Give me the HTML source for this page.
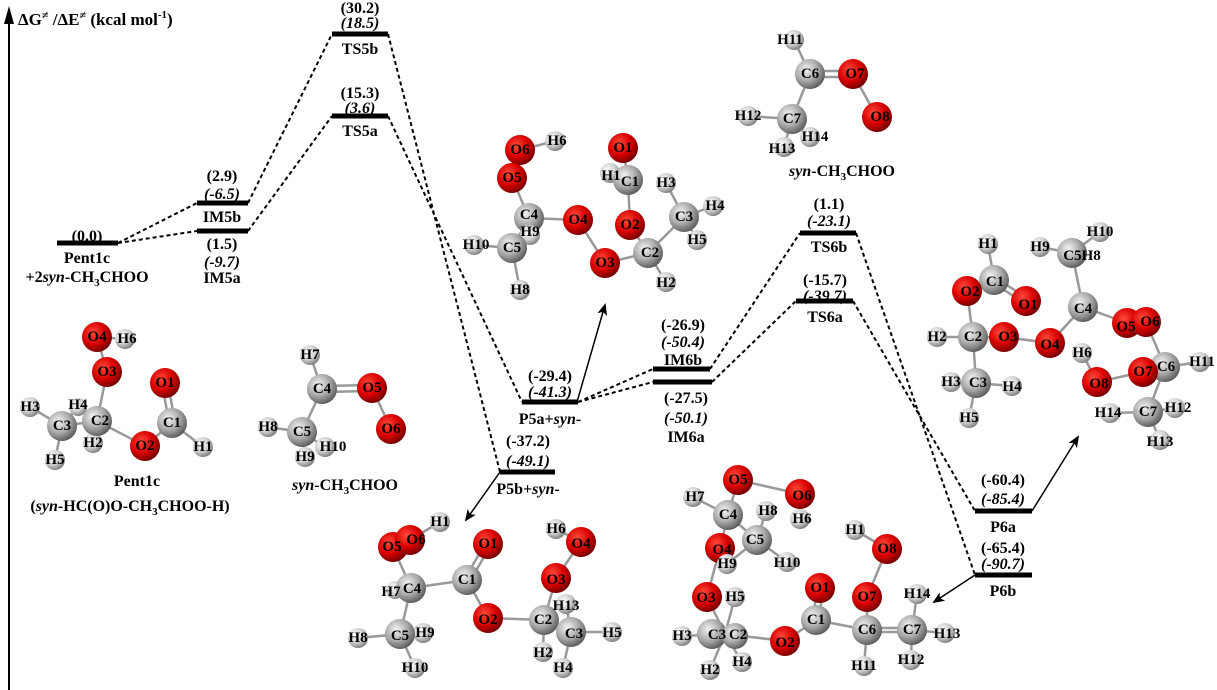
<!DOCTYPE html>
<html><head><meta charset="utf-8"><style>
html,body{margin:0;padding:0;background:#fff}
svg{display:block}
text{font-family:"Liberation Serif",serif;font-weight:bold;fill:#000}
.e{font-size:16px;text-anchor:middle}
.a{font-size:15px;text-anchor:middle;dominant-baseline:central}
.d{stroke:#000;stroke-width:2;stroke-dasharray:4,3;fill:none}
.l{stroke:#000;stroke-width:5}
.b{stroke:#999;stroke-width:2.5}
</style></head><body>
<svg width="1217" height="690" viewBox="0 0 1217 690" xmlns="http://www.w3.org/2000/svg">
<defs>
<radialGradient id="gO" cx="0.38" cy="0.35" r="0.7"><stop offset="0" stop-color="#ff4a3a"/><stop offset="0.55" stop-color="#d80000"/><stop offset="1" stop-color="#6a0000"/></radialGradient>
<radialGradient id="gC" cx="0.38" cy="0.35" r="0.7"><stop offset="0" stop-color="#f4f4f4"/><stop offset="0.55" stop-color="#a8a8a8"/><stop offset="1" stop-color="#555"/></radialGradient>
<radialGradient id="gH" cx="0.38" cy="0.35" r="0.7"><stop offset="0" stop-color="#fff"/><stop offset="0.55" stop-color="#d0d0d0"/><stop offset="1" stop-color="#777"/></radialGradient>
<marker id="ar" markerWidth="12" markerHeight="10" refX="10" refY="5" orient="auto" markerUnits="userSpaceOnUse"><path d="M0,0 L12,5 L0,10 L3,5 Z" fill="#000"/></marker>
</defs>

<!-- axis -->
<line x1="9" y1="690" x2="9" y2="22" stroke="#000" stroke-width="2"/>
<path d="M9,6 L4,24 L14,24 Z" fill="#000"/>
<text x="18" y="25" style="font-size:17px">ΔG<tspan font-size="12" dy="-6">≠</tspan><tspan dy="6"> /ΔE</tspan><tspan font-size="12" dy="-6">≠</tspan><tspan dy="6">  (kcal mol</tspan><tspan font-size="11" dy="-7">-1</tspan><tspan dy="7">)</tspan></text>

<!-- dashed connectors -->
<path class="d" d="M118,243 L197,203 M118,243 L197,231 M248,203 L332,34 M248,231 L332,116 M388,34 L500,472 M388,116 L522,402 M578,402 L653,369 M578,402 L653,382 M710,369 L800,233 M712,382 L796,301 M856,233 L975,575 M853,301 L975,511"/>

<!-- levels -->
<g class="l">
<line x1="57" y1="243" x2="118" y2="243"/>
<line x1="197" y1="203" x2="248" y2="203"/>
<line x1="197" y1="231" x2="248" y2="231"/>
<line x1="332" y1="34" x2="388" y2="34"/>
<line x1="332" y1="116" x2="388" y2="116"/>
<line x1="522" y1="402" x2="578" y2="402"/>
<line x1="500" y1="472" x2="555" y2="472"/>
<line x1="653" y1="369" x2="710" y2="369"/>
<line x1="653" y1="382" x2="712" y2="382"/>
<line x1="800" y1="233" x2="856" y2="233"/>
<line x1="796" y1="301" x2="853" y2="301"/>
<line x1="975" y1="511" x2="1032" y2="511"/>
<line x1="975" y1="575" x2="1032" y2="575"/>
</g>

<!-- solid arrows -->
<g stroke="#000" stroke-width="1.5" marker-end="url(#ar)">
<line x1="577" y1="402" x2="605" y2="305"/>
<line x1="500" y1="472" x2="466" y2="520"/>
<line x1="1032" y1="511" x2="1078" y2="437"/>
<line x1="975" y1="575" x2="934" y2="602"/>
</g>

<!-- energy labels -->
<text class="e" x="87" y="241">(0.0)</text>
<text class="e" x="87" y="263">Pent1c</text>
<text class="e" x="87" y="282">+2<tspan font-style="italic">syn</tspan>-CH<tspan font-size="11" dy="4">3</tspan><tspan dy="-4">CHOO</tspan></text>
<text class="e" x="222" y="181">(2.9)</text>
<text class="e" x="222" y="199" font-style="italic">(-6.5)</text>
<text class="e" x="222" y="222">IM5b</text>
<text class="e" x="222" y="249">(1.5)</text>
<text class="e" x="222" y="267" font-style="italic">(-9.7)</text>
<text class="e" x="222" y="283">IM5a</text>
<text class="e" x="360" y="13">(30.2)</text>
<text class="e" x="360" y="28" font-style="italic">(18.5)</text>
<text class="e" x="360" y="54">TS5b</text>
<text class="e" x="360" y="98">(15.3)</text>
<text class="e" x="360" y="113" font-style="italic">(3.6)</text>
<text class="e" x="360" y="136">TS5a</text>
<text class="e" x="550" y="381">(-29.4)</text>
<text class="e" x="550" y="397" font-style="italic">(-41.3)</text>
<text class="e" x="550" y="424">P5a+<tspan font-style="italic">syn</tspan>-</text>
<text class="e" x="528" y="446">(-37.2)</text>
<text class="e" x="528" y="466" font-style="italic">(-49.1)</text>
<text class="e" x="528" y="494">P5b+<tspan font-style="italic">syn</tspan>-</text>
<text class="e" x="683" y="330">(-26.9)</text>
<text class="e" x="683" y="347" font-style="italic">(-50.4)</text>
<text class="e" x="683" y="365">IM6b</text>
<text class="e" x="686" y="403">(-27.5)</text>
<text class="e" x="686" y="423" font-style="italic">(-50.1)</text>
<text class="e" x="686" y="442">IM6a</text>
<text class="e" x="829" y="209">(1.1)</text>
<text class="e" x="829" y="226" font-style="italic">(-23.1)</text>
<text class="e" x="829" y="252">TS6b</text>
<text class="e" x="825" y="285">(-15.7)</text>
<text class="e" x="825" y="301" font-style="italic">(-39.7)</text>
<text class="e" x="825" y="322">TS6a</text>
<text class="e" x="1003" y="485">(-60.4)</text>
<text class="e" x="1003" y="504" font-style="italic">(-85.4)</text>
<text class="e" x="1003" y="532">P6a</text>
<text class="e" x="1003" y="553">(-65.4)</text>
<text class="e" x="1003" y="569" font-style="italic">(-90.7)</text>
<text class="e" x="1003" y="596">P6b</text>

<!-- captions -->
<text class="e" x="137" y="486">Pent1c</text>
<text class="e" x="130" y="511">(<tspan font-style="italic">syn</tspan>-HC(O)O-CH<tspan font-size="11" dy="4">3</tspan><tspan dy="-4">CHOO-H)</tspan></text>
<text class="e" x="345" y="490"><tspan font-style="italic">syn</tspan>-CH<tspan font-size="11" dy="4">3</tspan><tspan dy="-4">CHOO</tspan></text>
<text class="e" x="842" y="176"><tspan font-style="italic">syn</tspan>-CH<tspan font-size="11" dy="4">3</tspan><tspan dy="-4">CHOO</tspan></text>

<!-- Molecule 1: Pent1c -->
<g class="b">
<line x1="97" y1="337" x2="125" y2="339"/><line x1="97" y1="337" x2="107" y2="372"/><line x1="107" y1="372" x2="97" y2="421"/>
<line x1="97" y1="421" x2="62" y2="426"/><line x1="62" y1="426" x2="30" y2="407"/><line x1="62" y1="426" x2="78" y2="407"/><line x1="62" y1="426" x2="55" y2="460"/>
<line x1="97" y1="421" x2="93" y2="443"/><line x1="97" y1="421" x2="145" y2="446"/><line x1="145" y1="446" x2="172" y2="423"/>
<line x1="169" y1="423" x2="162" y2="383"/><line x1="175" y1="423" x2="168" y2="383"/><line x1="172" y1="423" x2="203" y2="447"/>
</g>
<g>
<circle cx="125" cy="339" r="10" fill="url(#gH)"/><circle cx="97" cy="337" r="15" fill="url(#gO)"/><circle cx="107" cy="372" r="15" fill="url(#gO)"/>
<circle cx="165" cy="383" r="15" fill="url(#gO)"/><circle cx="30" cy="407" r="10" fill="url(#gH)"/><circle cx="78" cy="407" r="9" fill="url(#gH)"/>
<circle cx="62" cy="426" r="15" fill="url(#gC)"/><circle cx="93" cy="443" r="10" fill="url(#gH)"/><circle cx="97" cy="421" r="15" fill="url(#gC)"/>
<circle cx="172" cy="423" r="15" fill="url(#gC)"/><circle cx="145" cy="446" r="15" fill="url(#gO)"/><circle cx="203" cy="447" r="10" fill="url(#gH)"/><circle cx="55" cy="460" r="10" fill="url(#gH)"/>
</g>
<g>
<text class="a" x="97" y="337">O4</text><text class="a" x="127" y="339">H6</text><text class="a" x="107" y="372">O3</text><text class="a" x="165" y="383">O1</text>
<text class="a" x="30" y="407">H3</text><text class="a" x="78" y="405">H4</text><text class="a" x="62" y="426">C3</text><text class="a" x="100" y="421">C2</text>
<text class="a" x="93" y="443">H2</text><text class="a" x="145" y="446">O2</text><text class="a" x="172" y="423">C1</text><text class="a" x="203" y="447">H1</text><text class="a" x="55" y="460">H5</text>
</g>

<!-- Molecule 2 -->
<g class="b">
<line x1="310" y1="355" x2="322" y2="389"/><line x1="322" y1="386" x2="372" y2="385"/><line x1="322" y1="392" x2="372" y2="391"/>
<line x1="372" y1="388" x2="391" y2="429"/><line x1="322" y1="389" x2="302" y2="432"/><line x1="302" y1="432" x2="268" y2="427"/>
<line x1="302" y1="432" x2="325" y2="447"/><line x1="302" y1="432" x2="305" y2="457"/>
</g>
<circle cx="310" cy="355" r="10" fill="url(#gH)"/><circle cx="372" cy="388" r="15" fill="url(#gO)"/><circle cx="391" cy="429" r="15" fill="url(#gO)"/>
<circle cx="268" cy="427" r="10" fill="url(#gH)"/><circle cx="325" cy="447" r="10" fill="url(#gH)"/><circle cx="322" cy="389" r="15" fill="url(#gC)"/>
<circle cx="302" cy="432" r="15" fill="url(#gC)"/><circle cx="305" cy="457" r="10" fill="url(#gH)"/>
<text class="a" x="310" y="355">H7</text><text class="a" x="322" y="389">C4</text><text class="a" x="372" y="388">O5</text><text class="a" x="391" y="429">O6</text>
<text class="a" x="268" y="427">H8</text><text class="a" x="302" y="432">C5</text><text class="a" x="333" y="447">H10</text><text class="a" x="305" y="457">H9</text>

<!-- Molecule 3: P5a -->
<g class="b">
<line x1="520" y1="150" x2="555" y2="141"/><line x1="520" y1="150" x2="512" y2="178"/><line x1="512" y1="178" x2="529" y2="218"/>
<line x1="529" y1="218" x2="578" y2="220"/><line x1="529" y1="218" x2="512" y2="248"/><line x1="512" y1="248" x2="474" y2="245"/>
<line x1="512" y1="248" x2="520" y2="290"/><line x1="578" y1="220" x2="605" y2="263"/><line x1="605" y1="263" x2="648" y2="253"/>
<line x1="648" y1="253" x2="630" y2="225"/><line x1="630" y1="225" x2="628" y2="180"/><line x1="628" y1="180" x2="623" y2="148"/>
<line x1="648" y1="253" x2="684" y2="217"/><line x1="684" y1="217" x2="666" y2="183"/><line x1="684" y1="217" x2="713" y2="206"/>
<line x1="684" y1="217" x2="697" y2="240"/><line x1="648" y1="253" x2="666" y2="282"/>
</g>
<circle cx="555" cy="141" r="10" fill="url(#gH)"/><circle cx="520" cy="150" r="15" fill="url(#gO)"/><circle cx="512" cy="178" r="15" fill="url(#gO)"/>
<circle cx="623" cy="148" r="15" fill="url(#gO)"/><circle cx="610" cy="173" r="10" fill="url(#gH)"/><circle cx="628" cy="180" r="15" fill="url(#gC)"/>
<circle cx="666" cy="183" r="10" fill="url(#gH)"/><circle cx="713" cy="206" r="10" fill="url(#gH)"/><circle cx="697" cy="240" r="10" fill="url(#gH)"/>
<circle cx="684" cy="217" r="15" fill="url(#gC)"/><circle cx="529" cy="218" r="15" fill="url(#gC)"/><circle cx="530" cy="235" r="10" fill="url(#gH)"/>
<circle cx="578" cy="220" r="15" fill="url(#gO)"/><circle cx="474" cy="245" r="10" fill="url(#gH)"/><circle cx="512" cy="248" r="15" fill="url(#gC)"/>
<circle cx="520" cy="290" r="10" fill="url(#gH)"/><circle cx="648" cy="253" r="15" fill="url(#gC)"/><circle cx="630" cy="225" r="15" fill="url(#gO)"/>
<circle cx="605" cy="263" r="15" fill="url(#gO)"/><circle cx="666" cy="282" r="10" fill="url(#gH)"/>
<text class="a" x="520" y="150">O6</text><text class="a" x="557" y="141">H6</text><text class="a" x="512" y="178">O5</text><text class="a" x="623" y="148">O1</text>
<text class="a" x="611" y="176">H1</text><text class="a" x="630" y="182">C1</text><text class="a" x="666" y="183">H3</text><text class="a" x="684" y="217">C3</text>
<text class="a" x="715" y="206">H4</text><text class="a" x="697" y="240">H5</text><text class="a" x="529" y="215">C4</text><text class="a" x="530" y="232">H9</text>
<text class="a" x="578" y="220">O4</text><text class="a" x="476" y="245">H10</text><text class="a" x="512" y="248">C5</text><text class="a" x="520" y="290">H8</text>
<text class="a" x="630" y="225">O2</text><text class="a" x="650" y="253">C2</text><text class="a" x="605" y="263">O3</text><text class="a" x="666" y="283">H2</text>

<!-- Molecule 4 -->
<g class="b">
<line x1="794" y1="40" x2="810" y2="74"/><line x1="810" y1="71" x2="853" y2="71"/><line x1="810" y1="77" x2="853" y2="77"/>
<line x1="853" y1="74" x2="877" y2="117"/><line x1="810" y1="74" x2="792" y2="119"/><line x1="792" y1="119" x2="748" y2="116"/>
<line x1="792" y1="119" x2="784" y2="147"/><line x1="792" y1="119" x2="810" y2="137"/>
</g>
<circle cx="794" cy="40" r="10" fill="url(#gH)"/><circle cx="810" cy="74" r="15" fill="url(#gC)"/><circle cx="853" cy="74" r="15" fill="url(#gO)"/>
<circle cx="877" cy="117" r="15" fill="url(#gO)"/><circle cx="748" cy="116" r="10" fill="url(#gH)"/><circle cx="810" cy="137" r="10" fill="url(#gH)"/>
<circle cx="792" cy="119" r="15" fill="url(#gC)"/><circle cx="784" cy="147" r="10" fill="url(#gH)"/>
<text class="a" x="790" y="40">H11</text><text class="a" x="810" y="74">C6</text><text class="a" x="855" y="74">O7</text><text class="a" x="880" y="117">O8</text>
<text class="a" x="748" y="116">H12</text><text class="a" x="792" y="119">C7</text><text class="a" x="782" y="149">H13</text><text class="a" x="815" y="137">H14</text>

<!-- Molecule 5: P5b -->
<g class="b">
<line x1="410" y1="540" x2="440" y2="522"/><line x1="393" y1="547" x2="411" y2="588"/><line x1="411" y1="588" x2="467" y2="580"/>
<line x1="464" y1="580" x2="485" y2="544"/><line x1="470" y1="581" x2="491" y2="545"/><line x1="467" y1="580" x2="488" y2="618"/>
<line x1="488" y1="618" x2="544" y2="620"/><line x1="544" y1="620" x2="556" y2="578"/><line x1="556" y1="578" x2="581" y2="542"/>
<line x1="581" y1="542" x2="556" y2="529"/><line x1="544" y1="620" x2="571" y2="632"/><line x1="571" y1="632" x2="612" y2="632"/>
<line x1="571" y1="632" x2="563" y2="668"/><line x1="571" y1="632" x2="566" y2="604"/><line x1="544" y1="620" x2="543" y2="652"/>
<line x1="411" y1="588" x2="400" y2="634"/><line x1="400" y1="634" x2="358" y2="638"/><line x1="400" y1="634" x2="423" y2="633"/><line x1="400" y1="634" x2="415" y2="668"/>
</g>
<circle cx="440" cy="522" r="10" fill="url(#gH)"/><circle cx="393" cy="547" r="15" fill="url(#gO)"/><circle cx="410" cy="540" r="15" fill="url(#gO)"/>
<circle cx="488" cy="544" r="15" fill="url(#gO)"/><circle cx="556" cy="529" r="10" fill="url(#gH)"/><circle cx="581" cy="542" r="15" fill="url(#gO)"/>
<circle cx="556" cy="578" r="15" fill="url(#gO)"/><circle cx="467" cy="580" r="15" fill="url(#gC)"/><circle cx="395" cy="590" r="9" fill="url(#gH)"/>
<circle cx="411" cy="588" r="15" fill="url(#gC)"/><circle cx="566" cy="604" r="10" fill="url(#gH)"/><circle cx="488" cy="618" r="15" fill="url(#gO)"/>
<circle cx="544" cy="620" r="15" fill="url(#gC)"/><circle cx="571" cy="632" r="15" fill="url(#gC)"/><circle cx="612" cy="632" r="10" fill="url(#gH)"/>
<circle cx="358" cy="638" r="10" fill="url(#gH)"/><circle cx="423" cy="633" r="10" fill="url(#gH)"/><circle cx="400" cy="634" r="15" fill="url(#gC)"/>
<circle cx="543" cy="652" r="10" fill="url(#gH)"/><circle cx="563" cy="668" r="10" fill="url(#gH)"/><circle cx="415" cy="668" r="10" fill="url(#gH)"/>
<text class="a" x="440" y="522">H1</text><text class="a" x="392" y="547">O5</text><text class="a" x="416" y="540">O6</text><text class="a" x="488" y="544">O1</text>
<text class="a" x="556" y="529">H6</text><text class="a" x="581" y="544">O4</text><text class="a" x="556" y="580">O3</text><text class="a" x="467" y="580">C1</text>
<text class="a" x="391" y="592">H7</text><text class="a" x="412" y="589">C4</text><text class="a" x="566" y="606">H13</text><text class="a" x="488" y="620">O2</text>
<text class="a" x="543" y="620">C2</text><text class="a" x="574" y="634">C3</text><text class="a" x="612" y="633">H5</text><text class="a" x="358" y="638">H8</text>
<text class="a" x="425" y="633">H9</text><text class="a" x="400" y="636">C5</text><text class="a" x="543" y="653">H2</text><text class="a" x="563" y="668">H4</text><text class="a" x="415" y="668">H10</text>

<!-- Molecule 6: P6b -->
<g class="b">
<line x1="738" y1="480" x2="800" y2="494"/><line x1="738" y1="480" x2="728" y2="515"/><line x1="728" y1="515" x2="693" y2="497"/>
<line x1="728" y1="515" x2="757" y2="540"/><line x1="728" y1="515" x2="720" y2="548"/><line x1="757" y1="540" x2="766" y2="511"/>
<line x1="757" y1="540" x2="787" y2="562"/><line x1="757" y1="540" x2="727" y2="564"/><line x1="720" y1="548" x2="707" y2="597"/>
<line x1="707" y1="597" x2="725" y2="634"/><line x1="725" y1="634" x2="682" y2="636"/><line x1="725" y1="634" x2="710" y2="670"/>
<line x1="725" y1="634" x2="735" y2="597"/><line x1="725" y1="634" x2="742" y2="662"/><line x1="725" y1="634" x2="785" y2="641"/>
<line x1="785" y1="641" x2="816" y2="620"/><line x1="813" y1="620" x2="817" y2="588"/><line x1="819" y1="620" x2="823" y2="588"/>
<line x1="816" y1="620" x2="867" y2="630"/><line x1="867" y1="630" x2="867" y2="597"/><line x1="867" y1="597" x2="887" y2="549"/>
<line x1="887" y1="549" x2="855" y2="530"/><line x1="867" y1="630" x2="864" y2="666"/><line x1="867" y1="628" x2="912" y2="628"/><line x1="867" y1="632" x2="912" y2="632"/>
<line x1="912" y1="630" x2="917" y2="594"/><line x1="912" y1="630" x2="945" y2="633"/><line x1="912" y1="630" x2="911" y2="660"/>
</g>
<circle cx="693" cy="497" r="10" fill="url(#gH)"/><circle cx="738" cy="480" r="15" fill="url(#gO)"/><circle cx="800" cy="494" r="15" fill="url(#gO)"/>
<circle cx="800" cy="519" r="10" fill="url(#gH)"/><circle cx="728" cy="515" r="15" fill="url(#gC)"/><circle cx="766" cy="511" r="10" fill="url(#gH)"/>
<circle cx="720" cy="548" r="15" fill="url(#gO)"/><circle cx="757" cy="540" r="15" fill="url(#gC)"/><circle cx="727" cy="564" r="10" fill="url(#gH)"/>
<circle cx="787" cy="562" r="10" fill="url(#gH)"/><circle cx="855" cy="530" r="10" fill="url(#gH)"/><circle cx="887" cy="549" r="15" fill="url(#gO)"/>
<circle cx="707" cy="597" r="15" fill="url(#gO)"/><circle cx="735" cy="597" r="10" fill="url(#gH)"/><circle cx="820" cy="588" r="15" fill="url(#gO)"/>
<circle cx="867" cy="597" r="15" fill="url(#gO)"/><circle cx="917" cy="594" r="10" fill="url(#gH)"/><circle cx="816" cy="620" r="15" fill="url(#gC)"/>
<circle cx="682" cy="636" r="10" fill="url(#gH)"/><circle cx="712" cy="634" r="15" fill="url(#gC)"/><circle cx="735" cy="636" r="13" fill="url(#gC)"/>
<circle cx="785" cy="641" r="15" fill="url(#gO)"/><circle cx="867" cy="630" r="15" fill="url(#gC)"/><circle cx="945" cy="633" r="10" fill="url(#gH)"/>
<circle cx="912" cy="630" r="15" fill="url(#gC)"/><circle cx="710" cy="670" r="10" fill="url(#gH)"/><circle cx="742" cy="662" r="10" fill="url(#gH)"/>
<circle cx="864" cy="666" r="10" fill="url(#gH)"/><circle cx="911" cy="660" r="10" fill="url(#gH)"/>
<text class="a" x="695" y="497">H7</text><text class="a" x="738" y="480">O5</text><text class="a" x="802" y="496">O6</text><text class="a" x="802" y="519">H6</text>
<text class="a" x="728" y="515">C4</text><text class="a" x="768" y="511">H8</text><text class="a" x="722" y="550">O4</text><text class="a" x="755" y="540">C5</text>
<text class="a" x="727" y="564">H9</text><text class="a" x="787" y="563">H10</text><text class="a" x="855" y="530">H1</text><text class="a" x="887" y="549">O8</text>
<text class="a" x="706" y="598">O3</text><text class="a" x="735" y="597">H5</text><text class="a" x="820" y="588">O1</text><text class="a" x="867" y="597">O7</text>
<text class="a" x="917" y="594">H14</text><text class="a" x="816" y="620">C1</text><text class="a" x="682" y="636">H3</text><text class="a" x="717" y="635">C3</text>
<text class="a" x="738" y="635">C2</text><text class="a" x="785" y="643">O2</text><text class="a" x="867" y="630">C6</text><text class="a" x="912" y="630">C7</text>
<text class="a" x="947" y="634">H13</text><text class="a" x="710" y="670">H2</text><text class="a" x="742" y="662">H4</text><text class="a" x="864" y="666">H11</text><text class="a" x="911" y="660">H12</text>

<!-- Molecule 7: P6a -->
<g class="b">
<line x1="988" y1="244" x2="994" y2="280"/><line x1="994" y1="280" x2="967" y2="291"/><line x1="992" y1="282" x2="1024" y2="303"/><line x1="996" y1="278" x2="1028" y2="299"/>
<line x1="967" y1="291" x2="973" y2="337"/><line x1="973" y1="337" x2="937" y2="337"/><line x1="973" y1="337" x2="1004" y2="337"/>
<line x1="1004" y1="337" x2="1050" y2="343"/><line x1="1050" y1="343" x2="1083" y2="307"/><line x1="1083" y1="307" x2="1072" y2="253"/>
<line x1="1072" y1="253" x2="1040" y2="247"/><line x1="1072" y1="253" x2="1100" y2="232"/><line x1="1083" y1="307" x2="1127" y2="323"/>
<line x1="1146" y1="322" x2="1165" y2="367"/><line x1="1165" y1="367" x2="1143" y2="372"/><line x1="1143" y1="372" x2="1097" y2="382"/>
<line x1="1097" y1="382" x2="1082" y2="353"/><line x1="1165" y1="367" x2="1200" y2="362"/><line x1="1165" y1="367" x2="1148" y2="412"/>
<line x1="1148" y1="412" x2="1110" y2="413"/><line x1="1148" y1="412" x2="1175" y2="408"/><line x1="1148" y1="412" x2="1160" y2="440"/>
<line x1="973" y1="337" x2="976" y2="383"/><line x1="976" y1="383" x2="951" y2="382"/><line x1="976" y1="383" x2="1012" y2="386"/><line x1="976" y1="383" x2="969" y2="418"/>
</g>
<circle cx="988" cy="244" r="10" fill="url(#gH)"/><circle cx="1100" cy="232" r="10" fill="url(#gH)"/><circle cx="1040" cy="247" r="10" fill="url(#gH)"/>
<circle cx="1072" cy="253" r="15" fill="url(#gC)"/><circle cx="994" cy="280" r="15" fill="url(#gC)"/><circle cx="967" cy="291" r="15" fill="url(#gO)"/>
<circle cx="1026" cy="301" r="15" fill="url(#gO)"/><circle cx="1083" cy="307" r="15" fill="url(#gC)"/><circle cx="1127" cy="323" r="15" fill="url(#gO)"/>
<circle cx="1146" cy="322" r="15" fill="url(#gO)"/><circle cx="937" cy="337" r="10" fill="url(#gH)"/><circle cx="973" cy="337" r="15" fill="url(#gC)"/>
<circle cx="1004" cy="337" r="15" fill="url(#gO)"/><circle cx="1050" cy="343" r="15" fill="url(#gO)"/><circle cx="1082" cy="353" r="10" fill="url(#gH)"/>
<circle cx="1097" cy="382" r="15" fill="url(#gO)"/><circle cx="1165" cy="367" r="15" fill="url(#gC)"/><circle cx="1143" cy="372" r="15" fill="url(#gO)"/>
<circle cx="1200" cy="362" r="10" fill="url(#gH)"/><circle cx="951" cy="382" r="10" fill="url(#gH)"/><circle cx="976" cy="383" r="15" fill="url(#gC)"/>
<circle cx="1012" cy="386" r="10" fill="url(#gH)"/><circle cx="1110" cy="413" r="10" fill="url(#gH)"/><circle cx="1175" cy="408" r="10" fill="url(#gH)"/>
<circle cx="1148" cy="412" r="15" fill="url(#gC)"/><circle cx="969" cy="418" r="10" fill="url(#gH)"/><circle cx="1160" cy="440" r="10" fill="url(#gH)"/>
<text class="a" x="988" y="244">H1</text><text class="a" x="1100" y="232">H10</text><text class="a" x="1040" y="247">H9</text><text class="a" x="1082" y="256">C5H8</text>
<text class="a" x="995" y="282">C1</text><text class="a" x="970" y="292">O2</text><text class="a" x="1028" y="305">O1</text><text class="a" x="1083" y="309">C4</text>
<text class="a" x="1126" y="327">O5</text><text class="a" x="1150" y="322">O6</text><text class="a" x="937" y="337">H2</text><text class="a" x="973" y="337">C2</text>
<text class="a" x="1008" y="337">O3</text><text class="a" x="1050" y="345">O4</text><text class="a" x="1082" y="353">H6</text><text class="a" x="1099" y="384">O8</text>
<text class="a" x="1143" y="372">O7</text><text class="a" x="1166" y="367">C6</text><text class="a" x="1202" y="362">H11</text><text class="a" x="951" y="382">H3</text>
<text class="a" x="978" y="383">C3</text><text class="a" x="1012" y="387">H4</text><text class="a" x="1108" y="413">H14</text><text class="a" x="1148" y="412">C7</text>
<text class="a" x="1178" y="408">H12</text><text class="a" x="969" y="418">H5</text><text class="a" x="1160" y="442">H13</text>
</svg>
</body></html>
